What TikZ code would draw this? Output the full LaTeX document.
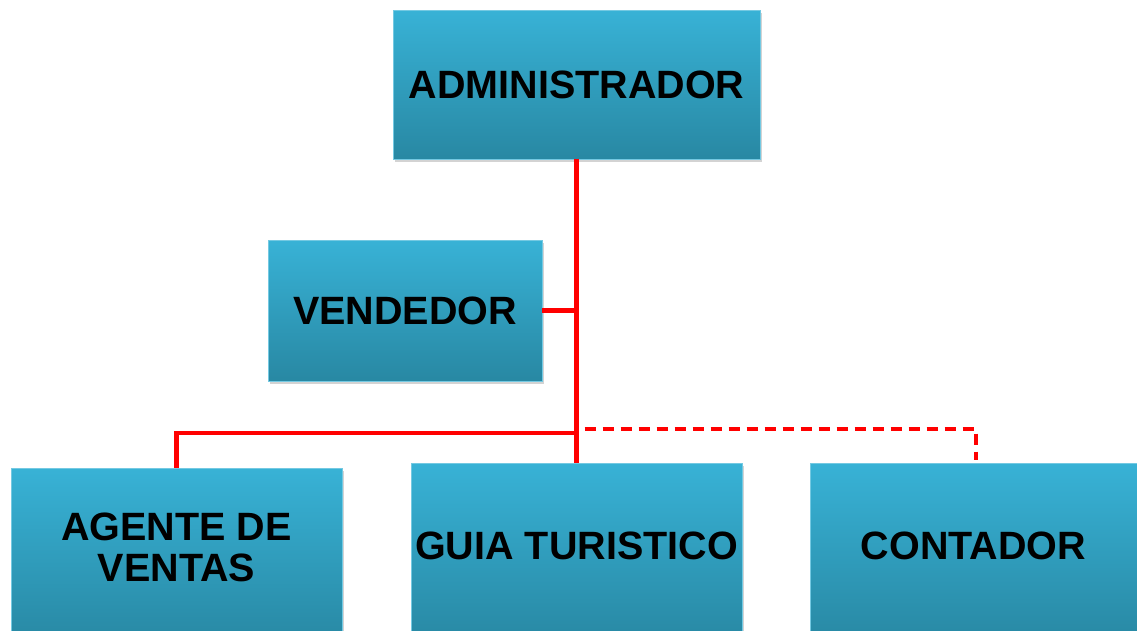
\documentclass[tikz,border=0pt]{standalone}
\usepackage{fontspec}
\setmainfont{Liberation Sans}
\usetikzlibrary{shadows,calc}
\definecolor{boxtop}{RGB}{56,178,214}
\definecolor{boxbot}{RGB}{40,136,163}
\definecolor{lnred}{RGB}{255,0,0}
\tikzset{
  orgbox/.style={rectangle, inner sep=0pt, align=center,
    top color=boxtop, bottom color=boxbot, draw=boxtop!70!white, line width=0.6pt,
    drop shadow={opacity=0.35, shadow xshift=2pt, shadow yshift=-3pt},
    font=\fontsize{39.5}{41}\selectfont\bfseries, text=black},
  link/.style={draw=lnred, line width=4.6pt},
  dlink/.style={draw=lnred, line width=4.6pt, dash pattern=on 11pt off 7pt, line join=round}
}
\begin{document}
\begin{tikzpicture}[x=1pt,y=-1pt]
\useasboundingbox (0,0) rectangle (1137,630);
\clip (0,0) rectangle (1137,630);
\node[orgbox, minimum width=367pt, minimum height=149pt] (admin) at (576.5,84.5) {ADMINISTRADOR};
\node[orgbox, minimum width=274pt, minimum height=141pt] (vend) at (405,310.5) {VENDEDOR};
\node[orgbox, minimum width=331pt, minimum height=176pt] (agente) at (176.5,556) {\raisebox{-3pt}[0pt][0pt]{\begin{tabular}{@{}c@{}}AGENTE DE\\VENTAS\end{tabular}}};
\node[orgbox, minimum width=331pt, minimum height=180pt] (guia) at (576.5,553) {\raisebox{-6pt}[0pt][0pt]{GUIA TURISTICO}};
\node[orgbox, minimum width=327pt, minimum height=180pt] (conta) at (973.5,553) {\raisebox{-6pt}[0pt][0pt]{CONTADOR}};
\coordinate (j1) at (admin.south |- 0,433);
\coordinate (j2) at (admin.south |- 0,429);
\coordinate (cend) at (976,460);
\draw[link] (admin.south) -- (guia.north);
\draw[link] (vend.east) -- (vend.east -| admin.south);
\draw[link, line join=miter] (agente.north) |- (j1);
\draw[dlink] ($(j2)+(8,0)$) -| (cend);
\end{tikzpicture}
\end{document}
